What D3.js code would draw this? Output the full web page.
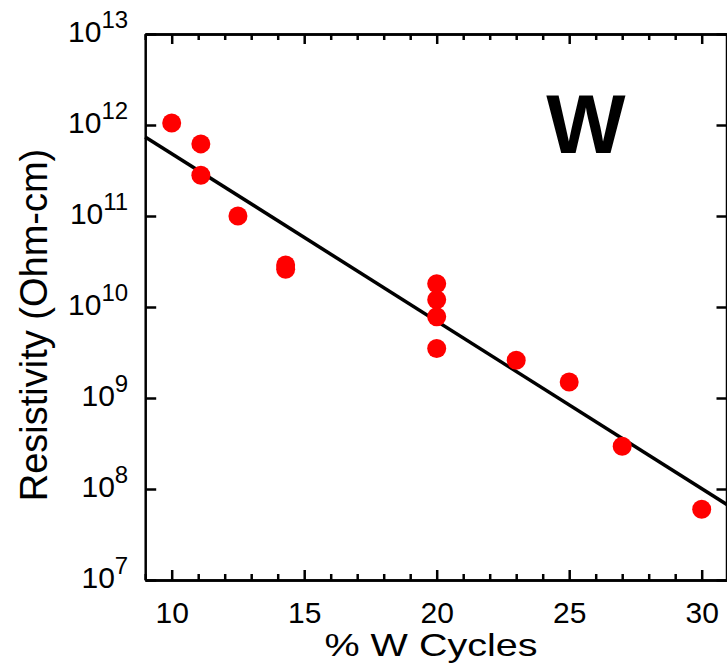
<!DOCTYPE html>
<html>
<head>
<meta charset="utf-8">
<script src="https://cdn.jsdelivr.net/npm/d3@7"></script>
<style>
  body { margin: 0; background: #fff; }
  svg { display: block; font-family: "Liberation Sans", Arial, sans-serif; }
</style>
</head>
<body>
<div class="chart"></div>
<script>
// data
var wCycles = [10, 11.1, 11.1, 12.5, 14.3, 14.3, 20, 20, 20, 20, 23, 25, 27, 30];
var resistivity = [1.05e12, 6.2e11, 2.8e11, 1.0e11, 2.6e10, 2.9e10, 1.8e10, 1.2e10, 7.8e9, 3.5e9, 2.6e9, 1.5e9, 2.95e8, 6.0e7];
var fitX = [9, 31];
var fitY = [7.4e11, 6.6e7];
var xMajor = [10, 15, 20, 25, 30];
var xMinor = [9, 11, 12, 13, 14, 16, 17, 18, 19, 21, 22, 23, 24, 26, 27, 28, 29, 31];
var yTicks = [1e7, 1e8, 1e9, 1e10, 1e11, 1e12, 1e13];

var W = 727, H = 666;
var svg = d3.select(".chart")
    .append("svg")
    .attr("width", W)
    .attr("height", H);

var x = d3.scaleLinear().domain([9, 31]).range([145.2, 728.2]);
var y = d3.scaleLog().domain([1e7, 1e13]).range([580, 34]);

var axisStroke = 2.5;

function styleAxis(g) {
  g.select(".domain").attr("stroke", "#000").attr("stroke-width", axisStroke);
  g.selectAll(".tick line").attr("stroke", "#000").attr("stroke-width", axisStroke);
}

// bottom axis, major + minor
var axBottom = svg.append("g")
    .attr("transform", "translate(0," + y(1e7) + ")")
    .call(d3.axisBottom(x).tickValues(xMajor).tickSize(-10).tickPadding(22).tickSizeOuter(0));
styleAxis(axBottom);
axBottom.selectAll(".tick text")
    .attr("font-size", 30)
    .attr("font-family", "Liberation Sans, Arial, sans-serif")
    .attr("fill", "#000");

var axBottomMinor = svg.append("g")
    .attr("transform", "translate(0," + y(1e7) + ")")
    .call(d3.axisBottom(x).tickValues(xMinor).tickSize(-6).tickFormat("").tickSizeOuter(0));
styleAxis(axBottomMinor);

// top axis
var axTop = svg.append("g")
    .attr("transform", "translate(0," + y(1e13) + ")")
    .call(d3.axisTop(x).tickValues(xMajor).tickSize(-10).tickFormat("").tickSizeOuter(0));
styleAxis(axTop);
var axTopMinor = svg.append("g")
    .attr("transform", "translate(0," + y(1e13) + ")")
    .call(d3.axisTop(x).tickValues(xMinor).tickSize(-6).tickFormat("").tickSizeOuter(0));
styleAxis(axTopMinor);

// left axis with 10^n labels
var axLeft = svg.append("g")
    .attr("transform", "translate(" + x(9) + ",0)")
    .call(d3.axisLeft(y).tickValues(yTicks).tickSize(-11).tickPadding(17).tickSizeOuter(0));
styleAxis(axLeft);
axLeft.selectAll(".tick text").each(function (d) {
  var t = d3.select(this);
  t.text(null)
    .attr("dy", null)
    .attr("y", 7)
    .attr("font-size", 30)
    .attr("font-family", "Liberation Sans, Arial, sans-serif")
    .attr("fill", "#000");
  t.append("tspan").text("10");
  t.append("tspan")
    .attr("font-size", 24)
    .attr("dy", -14)
    .text(Math.round(Math.log10(d)));
});

// right axis
var axRight = svg.append("g")
    .attr("transform", "translate(" + (W - 0.5) + ",0)")
    .call(d3.axisRight(y).tickValues(yTicks).tickSize(-10).tickFormat("").tickSizeOuter(0));
styleAxis(axRight);

// fit line
svg.append("path")
    .datum(d3.zip(fitX, fitY))
    .attr("d", d3.line().x(function (d) { return x(d[0]); }).y(function (d) { return y(d[1]); }))
    .attr("fill", "none")
    .attr("stroke", "#000")
    .attr("stroke-width", 3.5);

// points
svg.selectAll(".pt")
    .data(d3.zip(wCycles, resistivity))
    .enter()
    .append("circle")
    .attr("class", "pt")
    .attr("cx", function (d) { return x(d[0]); })
    .attr("cy", function (d) { return y(d[1]); })
    .attr("r", 9.5)
    .attr("fill", "#ff0000");

// labels
svg.append("text")
    .attr("x", 586)
    .attr("y", 153)
    .attr("text-anchor", "middle")
    .attr("font-size", 84)
    .attr("font-weight", "bold")
    .text("W");

svg.append("text")
    .attr("x", 431)
    .attr("y", 656)
    .attr("text-anchor", "middle")
    .attr("font-size", 32)
    .attr("textLength", 213)
    .attr("lengthAdjust", "spacingAndGlyphs")
    .text("% W Cycles");

svg.append("text")
    .attr("transform", "translate(47,325) rotate(-90)")
    .attr("text-anchor", "middle")
    .attr("font-size", 38)
    .text("Resistivity (Ohm-cm)");
</script>
</body>
</html>
